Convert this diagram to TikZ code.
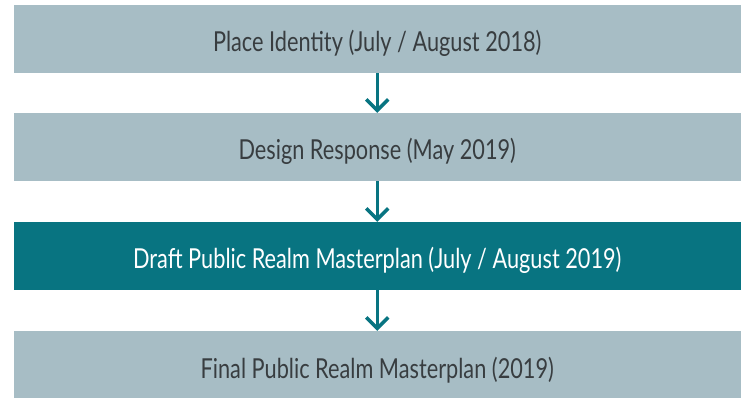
\documentclass[tikz,border=0pt]{standalone}
\usepackage{fontspec}
\setmainfont[FakeStretch=0.79]{Lato}
\usetikzlibrary{arrows.meta}
\definecolor{boxlight}{HTML}{A7BDC5}
\definecolor{boxdark}{HTML}{087481}
\definecolor{txtgray}{HTML}{383D40}
\begin{document}
\begin{tikzpicture}[x=1pt,y=-1pt,
  stagebox/.style={minimum width=727.5pt,minimum height=68pt,inner sep=0pt,
    text height=26pt,text depth=0pt,
    font=\fontsize{27.5}{30}\selectfont, anchor=center},
  lightbox/.style={stagebox,fill=boxlight,text=txtgray},
  darkbox/.style={stagebox,fill=boxdark,text=white},
  flow/.style={draw=boxdark,line width=3.5pt,
    -{Straight Barb[length=11pt,width=22pt,line width=3.5pt]}}]
\useasboundingbox (0,0) rectangle (742,398);
\node[lightbox] (b1) at (377.25,39) {Place Identity (July / August 2018)};
\node[lightbox] (b2) at (377.25,147) {Design Response (May 2019)};
\node[darkbox]  (b3) at (377.25,256) {Draft Public Realm Masterplan (July / August 2019)};
\node[lightbox] (b4) at (377.25,365) {Final Public Realm Masterplan (2019)};
\draw[flow] (b1.south) -- (b2.north);
\draw[flow] (b2.south) -- (b3.north);
\draw[flow] (b3.south) -- (b4.north);
\end{tikzpicture}
\end{document}
